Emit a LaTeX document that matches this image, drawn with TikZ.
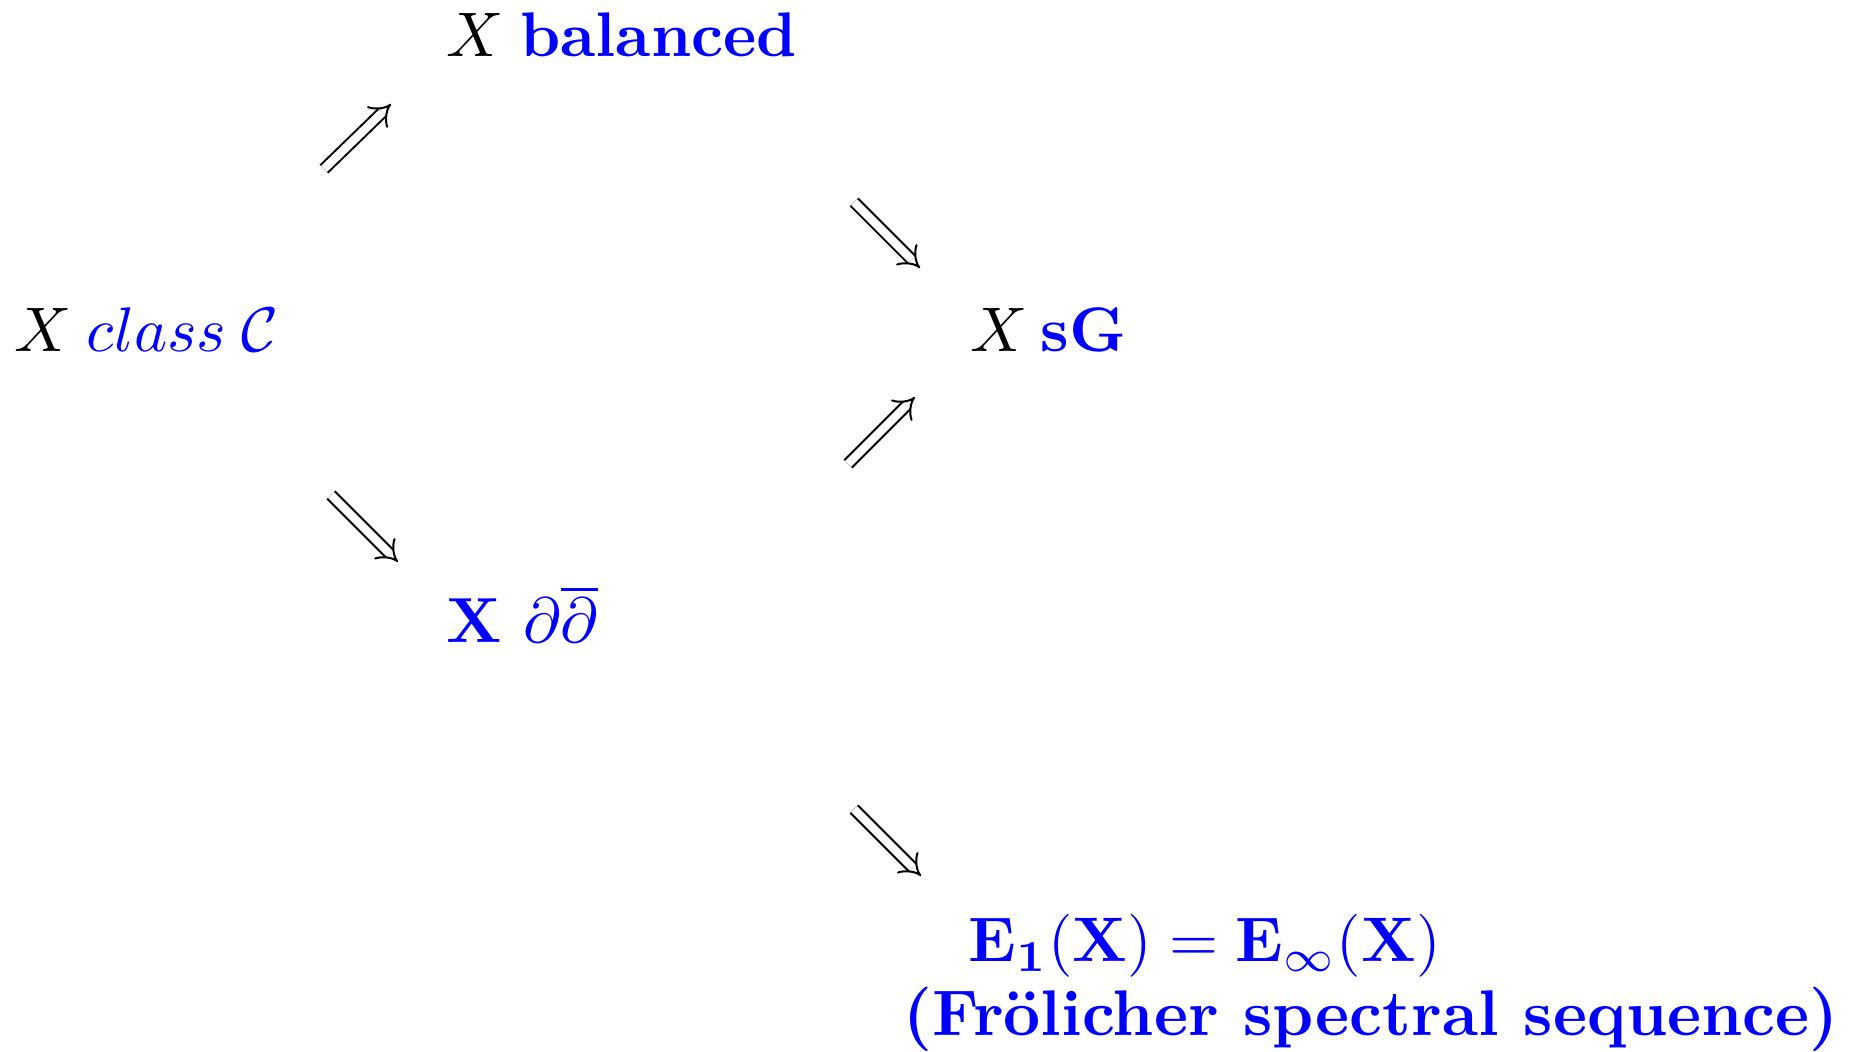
\documentclass[tikz,border=0pt]{standalone}
\usetikzlibrary{arrows.meta}
\newcommand{\bigtxt}[2][1.728]{\scalebox{#1}{#2}}
\begin{document}
\begin{tikzpicture}[x=0.2743pt,y=-0.2743pt,
  lbl/.style={inner sep=0pt, anchor=base west},
  imp/.style={double, double distance=2.3pt, line width=0.55pt, -{Implies}}]
\useasboundingbox (0,0) rectangle (1852,1052);
\node[lbl] (cls) at (14,352) {\bigtxt{$X$\hspace{2.4pt}\textcolor{blue}{$class$\hspace{2.4pt}$\mathcal{C}$}}};
\node[lbl] (bal) at (446,57) {\bigtxt{$X$\hspace{2.6pt}\textcolor{blue}{\textbf{balanced}}}};
\node[lbl] (sg) at (970,352) {\bigtxt{$X$\hspace{2pt}\textcolor{blue}{\textbf{sG}}}};
\node[lbl] (ddb) at (446,643) {\bigtxt[1.75]{\color{blue}$\mathbf{X}$ $\partial\overline{\partial}$}};
\node[lbl] (e1) at (968,962) {\bigtxt{\color{blue}$\mathbf{E_1(X) = E_\infty(X)}$}};
\node[lbl] (fs) at (903,1036) {\bigtxt[1.77]{\color{blue}\textbf{(Frölicher spectral sequence)}}};
\coordinate (a1s) at (324,169); \coordinate (a1e) at (391,104);
\coordinate (a2s) at (854,202); \coordinate (a2e) at (920,268);
\coordinate (a3s) at (848,464); \coordinate (a3e) at (915,397);
\coordinate (a4s) at (331,495); \coordinate (a4e) at (398,562);
\coordinate (a5s) at (854,809); \coordinate (a5e) at (921,876);
\draw[imp] (a1s) -- (a1e);
\draw[imp] (a2s) -- (a2e);
\draw[imp] (a3s) -- (a3e);
\draw[imp] (a4s) -- (a4e);
\draw[imp] (a5s) -- (a5e);
\end{tikzpicture}
\end{document}
